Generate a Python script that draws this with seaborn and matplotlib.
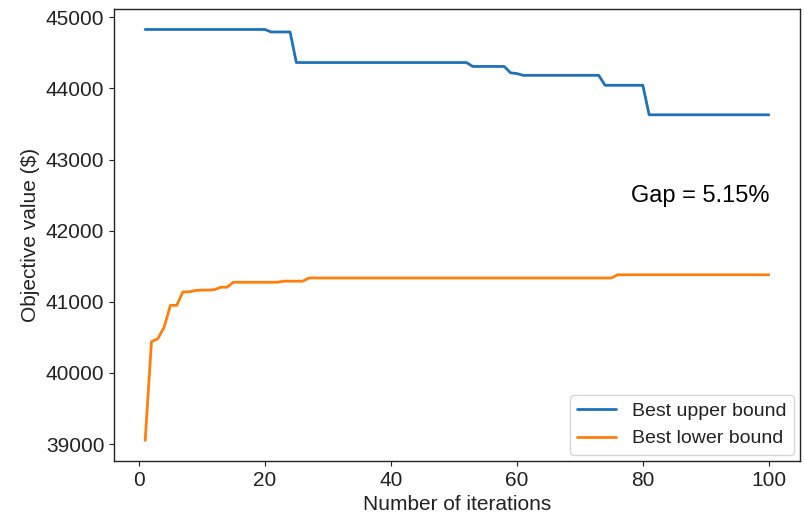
import pandas as pd
import matplotlib.pyplot as plt
import seaborn as sns

# data (step values per iteration)
iterations = list(range(1, 101))

upper_bound = ([44830] * 20 + [44795] * 4 + [44365] * 28 + [44310] * 6
               + [44220, 44210] + [44185] * 13 + [44045] * 7 + [43630] * 20)

lower_bound = ([39050, 40440, 40480, 40640, 40950, 40950, 41140, 41140,
                41160, 41165, 41165, 41170, 41205, 41205]
               + [41275] * 8 + [41290] * 4 + [41335] * 49 + [41380] * 25)

series_names = ['Best upper bound', 'Best lower bound']
gap_text = 'Gap = 5.15%'


def build_frame():
    df = pd.DataFrame({
        'iteration': iterations * 2,
        'value': upper_bound + lower_bound,
        'series': [series_names[0]] * len(iterations) + [series_names[1]] * len(iterations),
    })
    return df


sns.set_style('ticks')
plt.rcParams['font.family'] = ['Liberation Sans', 'DejaVu Sans']

df = build_frame()
f, ax = plt.subplots(figsize=(8.05, 5.25), dpi=100)
f.subplots_adjust(left=0.1416, right=0.9938, top=0.983, bottom=0.1219)

sns.lineplot(data=df, x='iteration', y='value', hue='series',
             palette=['#1f72b8', '#ff7f0e'], lw=2.0, ax=ax)

for s in ax.spines.values():
    s.set_color('#222222')
    s.set_linewidth(1.0)

ax.set_xticks([0, 20, 40, 60, 80, 100])
ax.set_xlabel('Number of iterations', fontsize=15, color='#222222')
ax.set_ylabel('Objective value ($)', fontsize=15, color='#222222')
ax.tick_params(labelsize=15, color='#222222', labelcolor='#222222')

ax.text(78.2, 42490, gap_text, fontsize=17, va='center', color='black')

leg = ax.legend(loc='lower right', fontsize=14, frameon=True, borderaxespad=0.3)
leg.set_title(None)
for t in leg.get_texts():
    t.set_color('#222222')

plt.savefig('out.png', dpi=100)
